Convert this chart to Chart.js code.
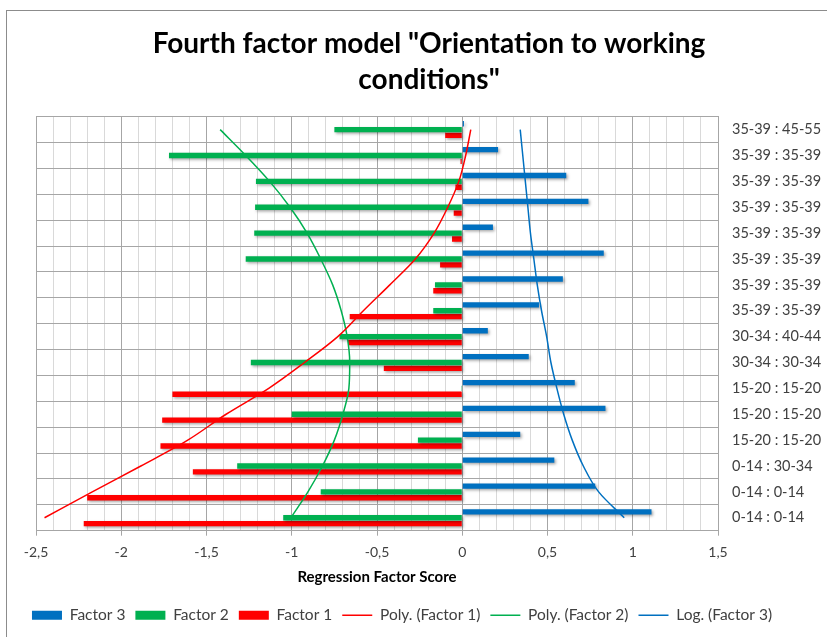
<!DOCTYPE html>
<html>
<head>
<meta charset="utf-8">
<script src="https://cdn.jsdelivr.net/npm/chart.js@4.4.1/dist/chart.umd.min.js"></script>
<style>
  html, body { margin: 0; padding: 0; background: #fff; }
  #wrap { width: 827px; height: 637px; }
</style>
</head>
<body>
<div id="wrap"><canvas id="myChart"></canvas></div>
<script>
// categories, top to bottom as they appear on the right axis
const categories = [
  '35-39 : 45-55', '35-39 : 35-39', '35-39 : 35-39', '35-39 : 35-39',
  '35-39 : 35-39', '35-39 : 35-39', '35-39 : 35-39', '35-39 : 35-39',
  '30-34 : 40-44', '30-34 : 30-34', '15-20 : 15-20', '15-20 : 15-20',
  '15-20 : 15-20', '0-14 : 30-34', '0-14 : 0-14', '0-14 : 0-14'
];

const factor3 = [0.01, 0.21, 0.61, 0.74, 0.18, 0.83, 0.59, 0.45, 0.15, 0.39, 0.66, 0.84, 0.34, 0.54, 0.78, 1.11];
const factor2 = [-0.75, -1.72, -1.21, -1.215, -1.22, -1.27, -0.16, -0.17, -0.72, -1.24, -0.005, -1.0, -0.26, -1.32, -0.83, -1.05];
const factor1 = [-0.1, -0.01, -0.04, -0.05, -0.06, -0.13, -0.17, -0.66, -0.67, -0.46, -1.70, -1.76, -1.77, -1.58, -2.2, -2.22];

// trendlines at each category
const polyFactor1 = [0.05, 0.02, -0.02, -0.085, -0.165, -0.275, -0.425, -0.58, -0.73, -0.925, -1.135, -1.385, -1.61, -1.885, -2.17, -2.45];
const polyFactor2 = [-1.42, -1.27, -1.13, -1.01, -0.91, -0.83, -0.76, -0.71, -0.675, -0.66, -0.665, -0.70, -0.75, -0.82, -0.905, -1.005];
const logFactor3 = [0.34, 0.355, 0.37, 0.385, 0.40, 0.42, 0.44, 0.465, 0.495, 0.52, 0.555, 0.595, 0.645, 0.71, 0.80, 0.95];

const xTickLabels = ['-2,5', '-2', '-1,5', '-1', '-0,5', '0', '0,5', '1', '1,5'];

const BLUE = '#0070C0', GREEN = '#00B050', RED = '#FF0000';
const FONT = 'Lato, "Open Sans", sans-serif';

const isMajor = v => Math.abs(v * 2 - Math.round(v * 2)) < 1e-6;

const frame = {
  id: 'frame',
  beforeDraw(chart) {
    const c = chart.ctx;
    c.save();
    c.fillStyle = '#fff';
    c.fillRect(0, 0, chart.width, chart.height);
    c.strokeStyle = '#8c8c8c';
    c.lineWidth = 1;
    c.strokeRect(6.5, 10.5, chart.width + 10, chart.height + 10);
    c.restore();
  },
  // the legend sits a little left of centre in the original
  afterLayout(chart) {
    chart.legend.left -= 27;
    chart.legend.right -= 27;
  }
};

const barShadow = {
  id: 'barShadow',
  beforeDatasetDraw(chart, args) {
    if (args.meta.type !== 'bar') return;
    const c = chart.ctx;
    c.save();
    c.shadowColor = 'rgba(0,0,0,0.35)';
    c.shadowBlur = 3;
    c.shadowOffsetX = 1.5;
    c.shadowOffsetY = 1.5;
  },
  afterDatasetDraw(chart, args) {
    if (args.meta.type !== 'bar') return;
    chart.ctx.restore();
  }
};

window.addEventListener("DOMContentLoaded", () => {
  const ctx = document.getElementById("myChart");
  if (!ctx) return;

  const bar = (label, data, color) => ({
    type: 'bar', label, data,
    backgroundColor: color, borderWidth: 0,
    categoryPercentage: 0.68, barPercentage: 0.9,
    pointStyle: 'rect', order: 1
  });
  const trend = (label, data, color) => ({
    type: 'line', label, data,
    borderColor: color, backgroundColor: color, borderWidth: 1.5,
    pointRadius: 0, fill: false, cubicInterpolationMode: 'monotone',
    pointStyle: 'line', order: 0
  });

  new Chart(ctx, {
    type: 'bar',
    data: {
      labels: categories,
      datasets: [
        bar('Factor 3', factor3, BLUE),
        bar('Factor 2', factor2, GREEN),
        bar('Factor 1', factor1, RED),
        trend('Poly. (Factor 1)', polyFactor1, RED),
        trend('Poly. (Factor 2)', polyFactor2, GREEN),
        trend('Log. (Factor 3)', logFactor3, BLUE)
      ]
    },
    options: {
      indexAxis: 'y',
      responsive: true,
      maintainAspectRatio: false,
      animation: false,
      layout: { padding: { left: 36, right: 5, top: 0, bottom: 4 } },
      scales: {
        x: {
          type: 'linear',
          min: -2.5, max: 1.5,
          ticks: {
            stepSize: 0.1, autoSkip: false, maxRotation: 0, padding: 8,
            color: '#404040', font: { family: FONT, size: 14 },
            callback: v => isMajor(v) ? xTickLabels[Math.round((v + 2.5) * 2)] : ''
          },
          grid: {
            color: c => isMajor(c.tick.value) ? '#a6a6a6' : '#d9d9d9',
            tickColor: c => isMajor(c.tick.value) ? '#a6a6a6' : 'rgba(0,0,0,0)',
            tickLength: 5
          },
          border: { color: '#a6a6a6' },
          title: {
            display: true, text: 'Regression Factor Score', color: '#000',
            font: { family: FONT, size: 15, weight: 'bold' }, padding: { top: 0, bottom: 11 }
          }
        },
        y: {
          position: 'right',
          ticks: { color: '#404040', font: { family: FONT, size: 14.5 }, padding: 14 },
          grid: { color: '#a6a6a6', drawTicks: false },
          border: { color: '#a6a6a6' },
          afterFit: s => { s.width = 104; }
        }
      },
      plugins: {
        title: {
          display: true,
          text: ['Fourth factor model "Orientation to working', 'conditions"'],
          color: '#000',
          font: { family: FONT, size: 28, weight: 'bold', lineHeight: 1.28 },
          padding: { top: 26, bottom: 19 }
        },
        legend: {
          position: 'bottom',
          labels: {
            usePointStyle: true, pointStyleWidth: 30, boxHeight: 9, padding: 10,
            color: '#404040', font: { family: FONT, size: 15.5 },
            sort: (a, b) => a.datasetIndex - b.datasetIndex
          }
        },
        tooltip: { enabled: false }
      }
    },
    plugins: [frame, barShadow]
  });
});
</script>
</body>
</html>
